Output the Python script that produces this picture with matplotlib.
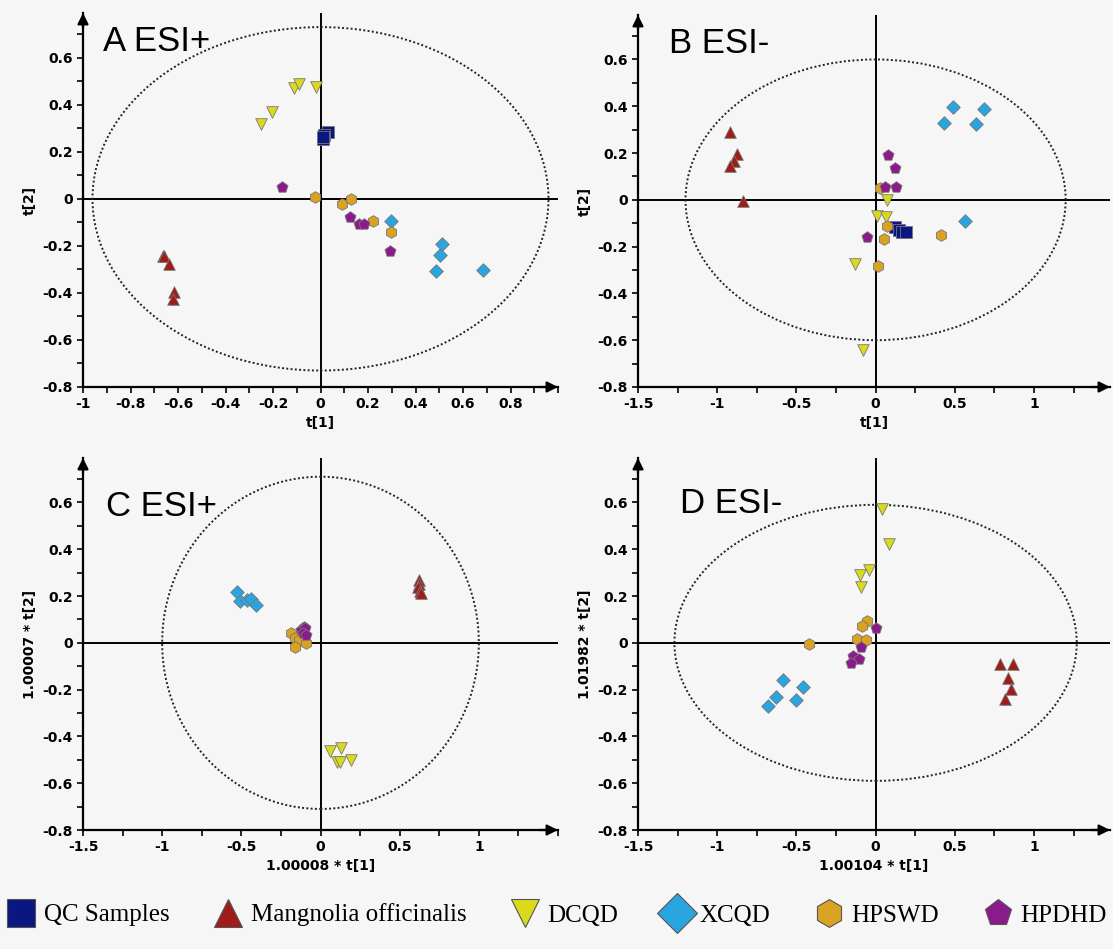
import numpy as np
import matplotlib
matplotlib.use('Agg')
import matplotlib.pyplot as plt
from matplotlib.patches import Ellipse
from matplotlib.ticker import MultipleLocator
from matplotlib.lines import Line2D

plt.rcParams['font.family'] = ['DejaVu Sans']

GROUPS  = ['QC Samples', 'Mangnolia officinalis', 'DCQD', 'XCQD', 'HPSWD', 'HPDHD']
MARKERS = ['s', '^', 'v', 'D', 'h', 'p']
COLORS  = ['#0b1780', '#9e1c1a', '#d9d91e', '#29a6e0', '#daa222', '#8b1a8b']
BG = '#f6f6f6'

# --- panel A: ESI+ PCA scores, [x], [y] per group
A_QC    = [[0.030, 0.015, 0.010, 0.012], [0.285, 0.270, 0.255, 0.262]]
A_MAG   = [[-0.665, -0.657, -0.640, -0.616, -0.623], [-0.245, -0.244, -0.277, -0.397, -0.426]]
A_DCQD  = [[-0.250, -0.204, -0.112, -0.091, -0.021], [0.316, 0.369, 0.471, 0.489, 0.475]]
A_XCQD  = [[0.295, 0.511, 0.504, 0.487, 0.684], [-0.096, -0.191, -0.238, -0.305, -0.301]]
A_HPSWD = [[-0.025, 0.091, 0.128, 0.222, 0.295], [0.006, -0.021, -0.001, -0.094, -0.140]]
A_HPDHD = [[-0.163, 0.125, 0.164, 0.185, 0.292], [0.050, -0.078, -0.106, -0.109, -0.223]]

# --- panel B: ESI- PCA scores
B_QC    = [[0.122, 0.147, 0.168, 0.189], [-0.116, -0.129, -0.136, -0.139]]
B_MAG   = [[-0.920, -0.874, -0.895, -0.920, -0.840], [0.289, 0.196, 0.164, 0.146, -0.007]]
B_DCQD  = [[0.069, 0.006, 0.067, -0.131, -0.078], [0.000, -0.069, -0.073, -0.274, -0.640]]
B_XCQD  = [[0.432, 0.488, 0.632, 0.684, 0.562], [0.329, 0.396, 0.324, 0.390, -0.090]]
B_HPSWD = [[0.027, 0.074, 0.053, 0.015, 0.415], [0.050, -0.111, -0.166, -0.283, -0.151]]
B_HPDHD = [[0.080, 0.120, 0.059, 0.126, -0.053], [0.190, 0.134, 0.053, 0.053, -0.157]]

# --- panel C: ESI+ OPLS-DA scores
C_MAG   = [[0.625, 0.622, 0.618, 0.629, 0.632], [0.269, 0.252, 0.238, 0.222, 0.214]]
C_DCQD  = [[0.061, 0.131, 0.194, 0.103, 0.126], [-0.462, -0.448, -0.499, -0.509, -0.509]]
C_XCQD  = [[-0.528, -0.507, -0.465, -0.438, -0.410], [0.217, 0.179, 0.182, 0.186, 0.161]]
C_HPSWD = [[-0.189, -0.164, -0.133, -0.091, -0.158], [0.041, 0.020, 0.013, 0.001, -0.016]]
C_HPDHD = [[-0.107, -0.122, -0.095, -0.110, -0.090], [0.066, 0.056, 0.062, 0.040, 0.035]]

# --- panel D: ESI- OPLS-DA scores
D_MAG   = [[0.787, 0.865, 0.833, 0.854, 0.816], [-0.089, -0.089, -0.149, -0.196, -0.239]]
D_DCQD  = [[0.042, 0.086, -0.042, -0.099, -0.091], [0.571, 0.424, 0.311, 0.289, 0.239]]
D_XCQD  = [[-0.584, -0.458, -0.629, -0.502, -0.681], [-0.157, -0.189, -0.231, -0.243, -0.271]]
D_HPSWD = [[-0.053, -0.084, -0.418, -0.116, -0.063], [0.093, 0.074, -0.003, 0.017, 0.014]]
D_HPDHD = [[0.004, -0.089, -0.141, -0.105, -0.154], [0.063, -0.017, -0.057, -0.069, -0.086]]

# Hotelling T2 ellipse semi-axes
ELL_A = (0.96, 0.73)
ELL_B = (1.20, 0.60)
ELL_C = (1.00, 0.71)
ELL_D = (1.27, 0.59)

panels = [
    dict(title='A ESI+', data=[A_QC, A_MAG, A_DCQD, A_XCQD, A_HPSWD, A_HPDHD], ell=ELL_A,
         xlim=(-1, 1.0), xmaj=0.2, xmin=0.1, xlabel='t[1]', ylabel='t[2]',
         pos=[83, 13, 558, 387], tpos=(0.042, 0.968)),
    dict(title='B ESI-', data=[B_QC, B_MAG, B_DCQD, B_XCQD, B_HPSWD, B_HPDHD], ell=ELL_B,
         xlim=(-1.5, 1.48), xmaj=0.5, xmin=0.25, xlabel='t[1]', ylabel='t[2]',
         pos=[638, 15, 1110, 387], tpos=(0.066, 0.968)),
    dict(title='C ESI+', data=[None, C_MAG, C_DCQD, C_XCQD, C_HPSWD, C_HPDHD], ell=ELL_C,
         xlim=(-1.5, 1.5), xmaj=0.5, xmin=0.25, xlabel='1.00008 * t[1]', ylabel='1.00007 * t[2]',
         pos=[83, 458, 558, 830], tpos=(0.048, 0.914)),
    dict(title='D ESI-', data=[None, D_MAG, D_DCQD, D_XCQD, D_HPSWD, D_HPDHD], ell=ELL_D,
         xlim=(-1.5, 1.48), xmaj=0.5, xmin=0.25, xlabel='1.00104 * t[1]', ylabel='1.01982 * t[2]',
         pos=[638, 458, 1110, 830], tpos=(0.089, 0.922)),
]

W, H = 1113, 949
fig = plt.figure(figsize=(W / 100, H / 100), dpi=100, facecolor=BG)

# purple drawn first so the gold hexagons sit on top, as in the original
draw_order = [5, 0, 1, 2, 3, 4]


def tick_fmt(limit):
    def f(v, _):
        v = round(v, 3)
        if v >= limit - 0.05:
            return ''
        return f'{v:g}'
    return plt.FuncFormatter(f)


for p in panels:
    l, t, r, b = p['pos']
    ax = fig.add_axes([l / W, 1 - b / H, (r - l) / W, (b - t) / H])
    ax.set_facecolor(BG)
    ax.set_xlim(*p['xlim'])
    ax.set_ylim(-0.8, 0.79)

    for s in ['top', 'right']:
        ax.spines[s].set_visible(False)
    for s in ['left', 'bottom']:
        ax.spines[s].set_linewidth(1.6)

    ax.xaxis.set_major_locator(MultipleLocator(p['xmaj']))
    ax.xaxis.set_minor_locator(MultipleLocator(p['xmin']))
    ax.yaxis.set_major_locator(MultipleLocator(0.2))
    ax.yaxis.set_minor_locator(MultipleLocator(0.1))
    ax.xaxis.set_major_formatter(tick_fmt(p['xlim'][1]))
    ax.yaxis.set_major_formatter(tick_fmt(0.75))
    ax.tick_params(which='both', direction='out', length=4, width=1.2, labelsize=10)
    for lab in ax.get_xticklabels() + ax.get_yticklabels():
        lab.set_fontweight('bold')

    ax.set_xlabel(p['xlabel'], fontsize=10, fontweight='bold', labelpad=3)
    ax.set_ylabel(p['ylabel'], fontsize=10, fontweight='bold', labelpad=4)

    # axis arrows
    ax.annotate('', xy=(1.0, 0), xytext=(0.96, 0), xycoords='axes fraction',
                arrowprops=dict(arrowstyle='-|>', color='k', lw=1.6, mutation_scale=16,
                                shrinkA=0, shrinkB=0))
    ax.annotate('', xy=(0, 1.0), xytext=(0, 0.96), xycoords='axes fraction',
                arrowprops=dict(arrowstyle='-|>', color='k', lw=1.6, mutation_scale=16,
                                shrinkA=0, shrinkB=0))

    ax.axhline(0, color='k', lw=1.4, zorder=1)
    ax.axvline(0, color='k', lw=1.4, zorder=1)

    ea, eb = p['ell']
    ax.add_patch(Ellipse((0, 0), 2 * ea, 2 * eb, fill=False, ls=(0, (1, 1.2)),
                         lw=1.4, color='#222222', zorder=1))

    for gi in draw_order:
        d = p['data'][gi]
        if d is None:
            continue
        ax.scatter(d[0], d[1], marker=MARKERS[gi], s=70 if MARKERS[gi] != 'D' else 48,
                   c=COLORS[gi], edgecolors='#777777', linewidths=0.6, zorder=3 + gi)

    ax.text(p['tpos'][0], p['tpos'][1], p['title'], transform=ax.transAxes,
            ha='left', va='top', fontsize=25, family=['Liberation Sans', 'DejaVu Sans'])

handles = [Line2D([], [], ls='none', marker=m, markersize=20, markerfacecolor=c,
                  markeredgecolor='#555555', markeredgewidth=0.8)
           for m, c in zip(MARKERS, COLORS)]
fig.legend(handles, GROUPS, loc='lower center', bbox_to_anchor=(0.5, 0.0), ncol=6,
           frameon=False, prop=dict(family='Liberation Serif', size=18),
           handletextpad=0.3, columnspacing=1.75, handlelength=1.2)

fig.savefig('out.png', dpi=100, facecolor=BG)
